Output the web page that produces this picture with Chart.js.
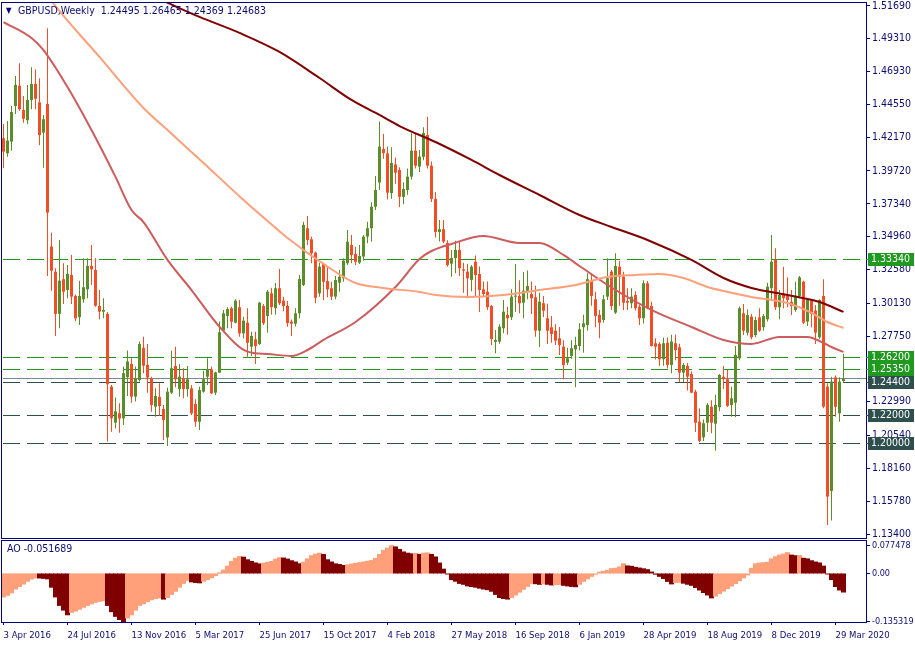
<!DOCTYPE html>
<html><head><meta charset="utf-8">
<script src="https://cdn.jsdelivr.net/npm/chart.js@4.4.1/dist/chart.umd.min.js"></script>
<style>
html,body{margin:0;padding:0;background:#fff;width:915px;height:650px;overflow:hidden}
#c1{position:absolute;left:0;top:0}
#c2{position:absolute;left:0;top:539px}
</style></head><body>
<canvas id="c1" width="915" height="540"></canvas>
<canvas id="c2" width="915" height="111"></canvas>
<script>
// ---------------- DATA ----------------
const symbolTitle = 'GBPUSD,Weekly';
const titleOHLC = '1.24495 1.26465 1.24369 1.24683';
const aoTitle = 'AO -0.051689';

const xTickIdx = [0,16,32,48,64,80,96,112,128,144,160,176,192,208];
const xTickText = ['3 Apr 2016','24 Jul 2016','13 Nov 2016','5 Mar 2017','25 Jun 2017','15 Oct 2017','4 Feb 2018','27 May 2018','16 Sep 2018','6 Jan 2019','28 Apr 2019','18 Aug 2019','8 Dec 2019','29 Mar 2020'];

const opens = [1.4209,1.4101,1.4185,1.4443,1.4590,1.4414,1.4340,1.4487,1.4603,1.4470,1.4250,1.4458,1.3424,1.3242,1.2936,1.3187,1.3110,1.3218,1.3066,1.2912,
1.3042,1.3115,1.3283,1.3254,1.2993,1.2952,1.2936,1.2409,1.2148,1.2215,1.2179,1.2477,1.2573,1.2336,1.2456,1.2690,1.2566,1.2469,1.2263,1.2334,
1.2247,1.2040,1.2365,1.2558,1.2390,1.2469,1.2390,1.2396,1.2283,1.2154,1.2372,1.2481,1.2534,1.2365,1.2510,1.2814,1.2921,1.2977,1.2872,1.2984,
1.2795,1.2872,1.2698,1.2752,1.2718,1.2993,1.2921,1.3085,1.2977,1.3122,1.3032,1.2993,1.2880,1.2865,1.2940,1.3146,1.3557,1.3477,1.3380,1.3085,
1.3298,1.3174,1.3122,1.3061,1.3162,1.3194,1.3303,1.3435,1.3370,1.3307,1.3351,1.3496,1.3557,1.3713,1.3889,1.4131,1.4100,1.3812,1.4020,1.3979,
1.3784,1.3834,1.3931,1.4120,1.4004,1.4074,1.4233,1.4010,1.3770,1.3530,1.3550,1.3450,1.3300,1.3341,1.3399,1.3259,1.3242,1.3182,1.3314,1.3225,
1.3114,1.3097,1.2993,1.2733,1.2735,1.2832,1.2928,1.2911,1.3061,1.3066,1.3017,1.3104,1.3080,1.3056,1.2814,1.3013,1.2904,1.2839,1.2814,1.2759,
1.2698,1.2582,1.2631,1.2679,1.2703,1.2839,1.2855,1.3177,1.3042,1.2928,1.2892,1.3061,1.3242,1.2945,1.3278,1.3206,1.3030,1.3013,1.3073,1.2988,
1.2904,1.3158,1.2993,1.2723,1.2718,1.2607,1.2727,1.2566,1.2723,1.2694,1.2510,1.2558,1.2500,1.2372,1.2154,1.2041,1.2147,1.2263,1.2140,1.2259,
1.2480,1.2462,1.2276,1.2292,1.2614,1.2940,1.2800,1.2916,1.2783,1.2911,1.2839,1.2897,1.3122,1.3327,1.2984,1.3073,1.3066,1.3024,1.2964,1.3066,
1.3169,1.2880,1.3032,1.2960,1.2766,1.3066,1.2408,1.1652,1.2476,1.2215,1.24495];

const highs = [1.4313,1.4335,1.4443,1.4661,1.4753,1.4516,1.4596,1.4724,1.4710,1.4644,1.4378,1.5007,1.3525,1.3267,1.3472,1.3303,1.3291,1.3363,1.3075,1.3177,
1.3339,1.3339,1.3436,1.3339,1.3110,1.3049,1.2950,1.2421,1.2329,1.2288,1.2554,1.2670,1.2615,1.2554,1.2735,1.2771,1.2718,1.2481,1.2397,1.2433,
1.2276,1.2400,1.2669,1.2698,1.2573,1.2541,1.2558,1.2421,1.2317,1.2408,1.2524,1.2614,1.2553,1.2517,1.2880,1.2964,1.2984,1.2988,1.3042,1.3037,
1.2916,1.2977,1.2807,1.2807,1.3024,1.3008,1.3109,1.3126,1.3160,1.3262,1.3060,1.3030,1.2895,1.2977,1.3218,1.3604,1.3646,1.3496,1.3387,1.3307,
1.3307,1.3278,1.3169,1.3211,1.3254,1.3339,1.3544,1.3508,1.3423,1.3435,1.3508,1.3604,1.3745,1.3936,1.4330,1.4240,1.4150,1.4145,1.4070,1.4000,
1.3890,1.3990,1.4245,1.4245,1.4125,1.4290,1.4366,1.4040,1.3820,1.3617,1.3617,1.3470,1.3399,1.3467,1.3460,1.3307,1.3300,1.3290,1.3360,1.3280,
1.3170,1.3170,1.3000,1.2819,1.2860,1.3037,1.2988,1.3114,1.3298,1.3180,1.3240,1.3250,1.3170,1.3140,1.3090,1.3066,1.3010,1.2920,1.2860,1.2840,
1.2745,1.2690,1.2745,1.2770,1.2868,1.2930,1.3230,1.3230,1.3097,1.2964,1.3073,1.3339,1.3254,1.3375,1.3322,1.3242,1.3122,1.3122,1.3100,1.3000,
1.3180,1.3175,1.3024,1.2760,1.2730,1.2765,1.2765,1.2785,1.2785,1.2720,1.2580,1.2580,1.2520,1.2385,1.2250,1.2170,1.2290,1.2310,1.2350,1.2500,
1.2558,1.2530,1.2408,1.2703,1.2990,1.3008,1.2969,1.2935,1.2916,1.2977,1.2935,1.3162,1.3508,1.3412,1.3109,1.3278,1.3201,1.3109,1.3169,1.3211,
1.3177,1.3049,1.3042,1.3001,1.3042,1.3187,1.2433,1.2481,1.2490,1.2476,1.26465];

const lows = [1.3992,1.4076,1.4119,1.4385,1.4409,1.4322,1.4313,1.4420,1.4420,1.4161,1.3996,1.3211,1.3104,1.2776,1.2832,1.3008,1.3049,1.3008,1.2882,1.2856,
1.3017,1.3049,1.3146,1.2988,1.2897,1.2904,1.2010,1.2082,1.2105,1.2075,1.2131,1.2341,1.2292,1.2300,1.2445,1.2505,1.2365,1.2227,1.2191,1.2196,
1.2022,1.1978,1.2355,1.2404,1.2336,1.2324,1.2336,1.2203,1.2118,1.2094,1.2365,1.2421,1.2355,1.2348,1.2510,1.2807,1.2832,1.2832,1.2868,1.2771,
1.2759,1.2626,1.2631,1.2573,1.2711,1.2856,1.2800,1.2932,1.2930,1.3000,1.2955,1.2843,1.2775,1.2845,1.2904,1.3138,1.3436,1.3303,1.3013,1.3061,
1.3037,1.3056,1.3037,1.3042,1.3097,1.3169,1.3290,1.3303,1.3290,1.3298,1.3322,1.3448,1.3460,1.3690,1.3835,1.4060,1.3765,1.3770,1.3880,1.3710,
1.3730,1.3800,1.3910,1.3990,1.3965,1.4050,1.3990,1.3748,1.3490,1.3460,1.3450,1.3280,1.3205,1.3230,1.3210,1.3090,1.3050,1.3100,1.3066,1.2950,
1.3060,1.2964,1.2711,1.2650,1.2720,1.2795,1.2785,1.2892,1.2952,1.2940,1.2904,1.3042,1.2935,1.2770,1.2695,1.2914,1.2718,1.2727,1.2710,1.2638,
1.2462,1.2565,1.2610,1.2404,1.2670,1.2655,1.2814,1.2995,1.2839,1.2759,1.2872,1.3037,1.2964,1.2935,1.2995,1.2964,1.2964,1.2977,1.2960,1.2856,
1.2866,1.2970,1.2700,1.2605,1.2560,1.2560,1.2540,1.2505,1.2600,1.2440,1.2440,1.2380,1.2360,1.2080,1.2005,1.2015,1.2080,1.2070,1.1944,1.2230,
1.2392,1.2260,1.2191,1.2186,1.2600,1.2783,1.2780,1.2752,1.2766,1.2807,1.2814,1.2880,1.3037,1.2964,1.2897,1.2977,1.2984,1.2928,1.2952,1.3049,
1.2863,1.2848,1.2839,1.2718,1.2752,1.2251,1.1405,1.1437,1.2191,1.2154,1.24369];

const closes = [1.4112,1.4192,1.4400,1.4596,1.4420,1.4351,1.4487,1.4603,1.4496,1.4233,1.4347,1.3670,1.3249,1.2936,1.3177,1.3097,1.3226,1.3061,1.2904,1.3066,
1.3129,1.3283,1.3259,1.2995,1.2952,1.2964,1.2426,1.2179,1.2229,1.2177,1.2506,1.2591,1.2336,1.2469,1.2718,1.2560,1.2474,1.2276,1.2341,1.2268,
1.2167,1.2372,1.2542,1.2462,1.2481,1.2391,1.2462,1.2215,1.2154,1.2384,1.2462,1.2534,1.2360,1.2512,1.2803,1.2940,1.2971,1.2879,1.3032,1.2795,
1.2887,1.2727,1.2776,1.2703,1.3017,1.2868,1.3097,1.2984,1.3122,1.3013,1.2993,1.2870,1.2865,1.2940,1.3189,1.3581,1.3472,1.3375,1.3053,1.3278,
1.3169,1.3114,1.3061,1.3182,1.3206,1.3322,1.3459,1.3363,1.3314,1.3356,1.3496,1.3557,1.3713,1.3834,1.4149,1.4102,1.3815,1.4030,1.3960,1.3784,
1.3841,1.3931,1.4119,1.4010,1.4076,1.4248,1.4010,1.3770,1.3530,1.3550,1.3460,1.3290,1.3341,1.3399,1.3267,1.3249,1.3194,1.3278,1.3218,1.3109,
1.3080,1.2984,1.2754,1.2747,1.2843,1.2952,1.2904,1.3061,1.3066,1.3013,1.3104,1.3138,1.3049,1.2814,1.3024,1.2959,1.2814,1.2790,1.2742,1.2711,
1.2566,1.2614,1.2687,1.2710,1.2824,1.2868,1.3187,1.3066,1.2921,1.2872,1.3042,1.3194,1.2993,1.3283,1.3206,1.3017,1.3017,1.3061,1.2977,1.2904,
1.3158,1.2977,1.2703,1.2698,1.2607,1.2723,1.2566,1.2735,1.2674,1.2510,1.2566,1.2481,1.2365,1.2147,1.2015,1.2143,1.2276,1.2147,1.2276,1.2493,
1.2462,1.2269,1.2324,1.2638,1.2977,1.2814,1.2928,1.2766,1.2892,1.2814,1.2921,1.3133,1.3314,1.2984,1.3073,1.3049,1.3037,1.2993,1.3066,1.3201,
1.2872,1.3037,1.2935,1.2800,1.3037,1.2263,1.1611,1.2445,1.2263,1.2445,1.24683];

// Moving averages at sample weeks
const maSlowIdx = [36,40,49,59,69,79,87,94,99,108,117,124,134,144,152,161,172,180,187,196,204,210];
const maSlowVal = [1.5255,1.5205,1.5089,1.4973,1.4835,1.4646,1.4487,1.4378,1.4298,1.4182,1.4052,1.3943,1.3798,1.3653,1.3566,1.3472,1.3327,1.3196,1.3124,1.3073,1.3022,1.2950];
const maMidIdx = [10,12,24,35,41,50,60,66,71,80,88,95,104,108,116,125,134,143,151,158,164,170,176,180,187,196,202,206,210];
const maMidVal = [1.5290,1.5205,1.4799,1.4429,1.4269,1.4030,1.3762,1.3610,1.3486,1.3298,1.3160,1.3124,1.3095,1.3073,1.3059,1.3073,1.3109,1.3146,1.3203,1.3218,1.3225,1.3196,1.3131,1.3102,1.3059,1.3015,1.2943,1.2877,1.2834];
const maFastIdx = [0,7,10,16,22,28,32,35,41,47,54,61,66,72,76,80,88,98,104,107,112,120,129,134,140,144,153,163,172,180,187,194,201,205,207,210];
const maFastVal = [1.5052,1.4936,1.4849,1.4581,1.4269,1.3929,1.3689,1.3602,1.3327,1.3109,1.2843,1.2662,1.2645,1.2631,1.2674,1.2747,1.2877,1.3131,1.3334,1.3392,1.3443,1.3501,1.3450,1.3450,1.3363,1.3283,1.3109,1.2950,1.2841,1.2747,1.2718,1.2769,1.2769,1.2725,1.2696,1.2660];

const greenLevels = [1.3334,1.2620,1.2535];
const darkLevels = [1.2440,1.2200,1.2000];
const bidPrice = 1.24683;

const priceTicks = [1.5169,1.4931,1.4693,1.4455,1.4217,1.3972,1.3734,1.3496,1.3258,1.3013,1.2775,1.2299,1.2054,1.1816,1.1578,1.1340];

const aoValues = [
-0.0653,-0.0609,-0.0539,-0.0434,-0.0364,-0.0294,-0.0215,-0.0154,-0.0119,
-0.0125,-0.0135,-0.0150,-0.0382,-0.0653,-0.0890,-0.1021,-0.1152,
-0.1082,-0.1047,-0.0995,-0.0942,-0.0890,-0.0846,-0.0802,-0.0776,-0.0758,
-0.0890,-0.1065,-0.1196,-0.1284,-0.1353,
-0.1240,-0.1152,-0.1021,-0.0890,-0.0846,-0.0784,-0.0732,-0.0697,-0.0680,
-0.0714,
-0.0671,-0.0583,-0.0495,-0.0382,-0.0276,-0.0189,
-0.0233,-0.0250,-0.0260,
-0.0215,-0.0171,-0.0119,-0.0057,0.0004,
0.0092,0.0205,0.0337,0.0424,0.0472,
0.0455,0.0381,0.0337,0.0293,0.0267,
0.0285,0.0310,0.0337,0.0400,0.0440,
0.0430,0.0400,0.0354,0.0319,0.0270,
0.0311,0.0407,0.0494,0.0538,0.0565,
0.0530,0.0381,0.0319,0.0267,0.0249,0.0223,
0.0240,0.0262,0.0280,0.0300,0.0320,0.0340,0.0360,0.0420,0.0530,0.0643,0.0705,0.0775,
0.0740,0.0670,0.0600,0.0565,0.0547,
0.0560,0.0530,0.0565,0.0573,
0.0530,0.0460,0.0290,0.0120,
-0.0014,-0.0171,-0.0215,-0.0276,-0.0302,-0.0346,-0.0364,-0.0382,-0.0408,-0.0434,-0.0452,-0.0495,-0.0583,-0.0671,-0.0697,-0.0714,
-0.0671,-0.0600,-0.0520,-0.0440,-0.0360,-0.0276,
-0.0285,-0.0302,-0.0290,-0.0300,-0.0320,-0.0310,-0.0305,
-0.0330,-0.0346,-0.0360,-0.0370,
-0.0300,-0.0220,-0.0150,-0.0080,-0.0020,
0.0035,0.0060,0.0085,0.0135,0.0145,0.0180,0.0270,
0.0210,0.0200,0.0170,0.0150,0.0130,0.0105,0.0040,
-0.0020,-0.0080,-0.0140,-0.0220,-0.0290,
-0.0250,-0.0245,
-0.0270,-0.0300,-0.0330,-0.0390,-0.0460,-0.0530,-0.0600,-0.0680,
-0.0630,-0.0560,-0.0490,-0.0420,-0.0350,-0.0280,-0.0200,-0.0120,-0.0040,
0.0144,0.0270,0.0290,0.0300,0.0310,0.0407,0.0468,0.0512,0.0538,0.0580,
0.0512,0.0494,0.0500,
0.0424,0.0407,0.0354,0.0319,0.0293,0.0205,
-0.0014,-0.0171,-0.0364,-0.0460,-0.0517];
const aoTicks = [0.077478, 0, -0.135319];

// ---------------- STYLE ----------------
const X_MIN = -0.375, X_MAX = 215.625;
const PRICE_MIN = 1.1311, PRICE_MAX = 1.5190;
const AO_MIN = -0.13535, AO_MAX = 0.0906;
const NAVY = '#000080', TXT = '#0c0c72';
const BULL = '#5B8E2B', BEAR = '#F24E26';
const GREEN_LVL = '#1F9A1F', DARK_LVL = '#2F4F4F', BID = '#778899';

function hasFont(name){
  const c = document.createElement('canvas').getContext('2d');
  const s = '1.51690 GBPUSD,Weekly';
  c.font = '40px monospace'; const a = c.measureText(s).width;
  c.font = "40px '" + name + "', monospace"; return c.measureText(s).width !== a;
}
let FONT = "'DejaVu Sans'", FSIZE = 9, XSIZE = 8.5, AOSIZE = 8;
if (hasFont('DejaVu Sans Condensed')) { FONT = "'DejaVu Sans Condensed'"; FSIZE = 10.5; XSIZE = 9.5; AOSIZE = 9; }
else if (hasFont('Liberation Sans Narrow')) { FONT = "'Liberation Sans Narrow'"; FSIZE = 11; XSIZE = 10.5; AOSIZE = 10; }
const fontStr = FSIZE + 'px ' + FONT;

function fitY(scale){ scale.width = 49; scale.paddingTop = 0; scale.paddingBottom = 0; scale.paddingLeft = 0; scale.paddingRight = 0; }
function fitX(scale){ scale.height = 28; scale.paddingTop = 0; scale.paddingBottom = 0; scale.paddingLeft = 0; scale.paddingRight = 0; }

const candleColors = closes.map((c,i) => c >= opens[i] ? BULL : BEAR);
const wickData = highs.map((h,i) => ({x:i, y:[lows[i], h]}));
const bodyData = opens.map((o,i) => ({x:i, y:[o, closes[i]]}));
const pts = (idx, val) => idx.map((k,j) => ({x:k, y:val[j]}));

const framePlugin = {
  id:'frame',
  afterDraw(chart){
    const {ctx, chartArea:a} = chart;
    ctx.save(); ctx.strokeStyle = NAVY; ctx.lineWidth = 1;
    ctx.strokeRect(a.left-0.5, a.top-0.5, a.right-a.left+1, a.bottom-a.top+1);
    ctx.restore();
  }
};

// horizontal level lines, positioned through the price scale
const levelPlugin = {
  id:'levels',
  beforeDatasetsDraw(chart){
    const {ctx, chartArea:a} = chart; const ys = chart.scales.y;
    ctx.save(); ctx.lineWidth = 1;
    const draw = (v, col, dash) => {
      const y = Math.round(ys.getPixelForValue(v)) + 0.5;
      ctx.strokeStyle = col; ctx.setLineDash(dash);
      ctx.beginPath(); ctx.moveTo(a.left + 1, y); ctx.lineTo(a.right, y); ctx.stroke();
    };
    draw(bidPrice, BID, []);
    greenLevels.forEach(v => draw(v, GREEN_LVL, [17,7]));
    darkLevels.forEach(v => draw(v, DARK_LVL, [17,7]));
    ctx.restore();
  }
};

const mainOverlay = {
  id:'mainOverlay',
  afterDraw(chart){
    const {ctx} = chart; const ys = chart.scales.y; const a = chart.chartArea;
    ctx.save();
    ctx.textBaseline = 'middle'; ctx.textAlign = 'left';
    ctx.fillStyle = NAVY; ctx.font = '8px ' + FONT;
    ctx.fillText('\u25BC', a.left+4, a.top+8);
    ctx.font = fontStr; ctx.fillStyle = TXT;
    ctx.fillText(symbolTitle + '  ' + titleOHLC, a.left+16, a.top+8);
    const boxes = greenLevels.map(v => [v, GREEN_LVL]).concat(darkLevels.map(v => [v, DARK_LVL]));
    boxes.forEach(([v,col]) => {
      const y = Math.round(ys.getPixelForValue(v));
      ctx.fillStyle = col;
      ctx.fillRect(a.right+2, y-6, 46, 13);
      ctx.fillRect(a.right, y, 3, 1);
      ctx.fillStyle = '#ffffff';
      ctx.fillText(v.toFixed(5), a.right+5, y+0.5);
    });
    ctx.restore();
  }
};

const aoOverlay = {
  id:'aoOverlay',
  afterDraw(chart){
    const {ctx} = chart; const a = chart.chartArea;
    ctx.save(); ctx.textBaseline = 'middle'; ctx.textAlign = 'left';
    ctx.font = fontStr; ctx.fillStyle = TXT;
    ctx.fillText(aoTitle, a.left+5, a.top+8);
    ctx.restore();
  }
};

new Chart(document.getElementById('c1'), {
  type:'bar',
  data:{ datasets:[
    {type:'bar', data:wickData, backgroundColor:candleColors, barThickness:1, grouped:false, inflateAmount:0, borderWidth:0, order:3},
    {type:'bar', data:bodyData, backgroundColor:candleColors, barThickness:3, grouped:false, inflateAmount:0, borderWidth:0, minBarLength:1, order:2},
    {type:'line', data:pts(maSlowIdx, maSlowVal), borderColor:'#800000', borderWidth:2, pointRadius:0, cubicInterpolationMode:'monotone', order:0},
    {type:'line', data:pts(maMidIdx, maMidVal), borderColor:'#FFA07A', borderWidth:2, pointRadius:0, cubicInterpolationMode:'monotone', order:0},
    {type:'line', data:pts(maFastIdx, maFastVal), borderColor:'#CD5C5C', borderWidth:2, pointRadius:0, cubicInterpolationMode:'monotone', order:0}
  ]},
  options:{
    responsive:false, devicePixelRatio:1, animation:false, events:[],
    layout:{padding:{left:2, top:3, right:0, bottom:2}},
    plugins:{legend:{display:false}, tooltip:{enabled:false}},
    scales:{
      x:{type:'linear', min:X_MIN, max:X_MAX, offset:false, display:false, grid:{offset:false}},
      y:{type:'linear', position:'right', min:PRICE_MIN, max:PRICE_MAX,
         afterBuildTicks:s => { s.ticks = priceTicks.map(v => ({value:v})); },
         afterFit:fitY,
         ticks:{autoSkip:false, color:TXT, font:{family:FONT, size:FSIZE}, padding:2, callback:v => v.toFixed(5)},
         grid:{drawOnChartArea:false, drawTicks:true, tickLength:4, color:NAVY},
         border:{display:false}}
    }
  },
  plugins:[levelPlugin, framePlugin, mainOverlay]
});

const aoColors = aoValues.map((v,i) => (i === 0 || v > aoValues[i-1]) ? '#FFA07A' : '#800000');
new Chart(document.getElementById('c2'), {
  type:'bar',
  data:{ datasets:[
    {data:aoValues.map((v,i) => ({x:i, y:v})), backgroundColor:aoColors, barThickness:4, grouped:false, inflateAmount:0.5, borderWidth:0}
  ]},
  options:{
    responsive:false, devicePixelRatio:1, animation:false, events:[],
    layout:{padding:{left:2, top:2, right:0, bottom:0}},
    plugins:{legend:{display:false}, tooltip:{enabled:false}},
    scales:{
      x:{type:'linear', position:'bottom', min:X_MIN, max:X_MAX, offset:false,
         afterBuildTicks:s => { s.ticks = xTickIdx.map(v => ({value:v})); },
         afterFit:fitX,
         ticks:{autoSkip:false, maxRotation:0, minRotation:0, align:'start', color:TXT, font:{family:FONT, size:XSIZE}, padding:5, callback:(v,i) => xTickText[i]},
         grid:{drawOnChartArea:false, drawTicks:true, tickLength:3, color:NAVY, offset:false},
         border:{display:false}},
      y:{type:'linear', position:'right', min:AO_MIN, max:AO_MAX,
         afterBuildTicks:s => { s.ticks = aoTicks.map(v => ({value:v})); },
         afterFit:fitY,
         ticks:{autoSkip:false, color:TXT, font:{family:FONT, size:AOSIZE}, padding:2, callback:v => v === 0 ? '0.00' : String(v)},
         grid:{drawOnChartArea:false, drawTicks:true, tickLength:4, color:NAVY},
         border:{display:false}}
    }
  },
  plugins:[framePlugin, aoOverlay]
});
</script>
</body></html>
